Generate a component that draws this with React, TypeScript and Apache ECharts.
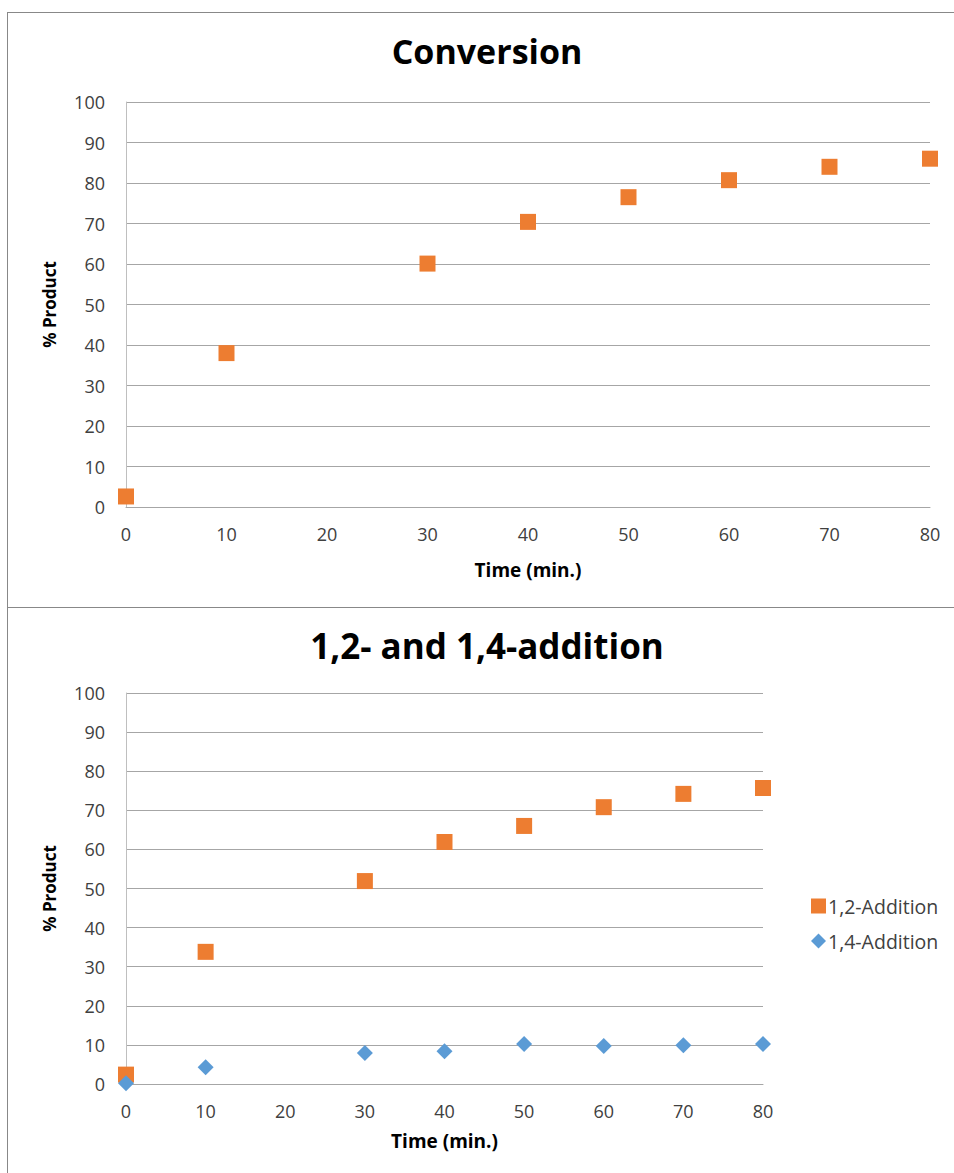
import React, { useEffect, useRef } from "react";
import * as echarts from "echarts";

const timeTop = [0, 10, 30, 40, 50, 60, 70, 80];
const conversion = [2.6, 38, 60.1, 70.4, 76.5, 80.7, 84, 86];

const timeBottom = [0, 10, 30, 40, 50, 60, 70, 80];
const add12 = [2.4, 33.8, 51.9, 61.9, 66, 70.8, 74.2, 75.7];
const add14 = [0.2, 4.3, 7.9, 8.4, 10.2, 9.7, 9.9, 10.2];

const xTicks = { min: 0, max: 80, interval: 10 };
const yTicks = { min: 0, max: 100, interval: 10 };

const FONT = "'Open Sans', sans-serif";
const ORANGE = "#ED7D31";
const BLUE = "#5B9BD5";
const TXT = "#404040";

export default function App() {
  const ref = useRef<HTMLDivElement>(null);
  useEffect(() => {
    if (!ref.current) return;
    const chart = echarts.init(ref.current, undefined, { renderer: "svg" });
    const xAxisBase = (gridIndex: number, nameGap: number) => ({
      type: "value",
      gridIndex,
      min: xTicks.min,
      max: xTicks.max,
      interval: xTicks.interval,
      name: "Time (min.)",
      nameLocation: "middle",
      nameGap,
      nameTextStyle: { fontFamily: FONT, fontWeight: "bold", fontSize: 19, color: "#000" },
      axisLine: { show: true, lineStyle: { color: "#a6a6a6", width: 1 } },
      axisTick: { show: false },
      splitLine: { show: false },
      axisLabel: { fontFamily: FONT, fontSize: 18, color: TXT, margin: 18 },
    });
    const yAxisBase = (gridIndex: number) => ({
      type: "value",
      gridIndex,
      min: yTicks.min,
      max: yTicks.max,
      interval: yTicks.interval,
      name: "% Product",
      nameLocation: "middle",
      nameGap: 68,
      nameTextStyle: { fontFamily: FONT, fontWeight: "bold", fontSize: 17, color: "#000" },
      axisLine: { show: true, lineStyle: { color: "#bfbfbf", width: 1 } },
      axisTick: { show: false },
      splitLine: { show: true, lineStyle: { color: "#a6a6a6", width: 1 } },
      axisLabel: { fontFamily: FONT, fontSize: 18, color: TXT, margin: 21 },
    });
    chart.setOption({
      animation: false,
      backgroundColor: "#fff",
      title: [
        {
          text: "Conversion",
          left: 482,
          top: 29,
          textAlign: "center",
          textStyle: { fontFamily: FONT, fontWeight: "bold", fontSize: 34, color: "#000" },
        },
        {
          text: "1,2- and 1,4-addition",
          left: 482,
          top: 623,
          textAlign: "center",
          textStyle: { fontFamily: FONT, fontWeight: "bold", fontSize: 35, color: "#000" },
        },
      ],
      grid: [
        { left: 126, top: 102, width: 804, height: 405 },
        { left: 126, top: 693, width: 637, height: 391 },
      ],
      xAxis: [xAxisBase(0, 53), xAxisBase(1, 47)],
      yAxis: [yAxisBase(0), yAxisBase(1)],
      legend: {
        data: [
          { name: "1,2-Addition", icon: "rect" },
          { name: "1,4-Addition", icon: "diamond" },
        ],
        orient: "vertical",
        left: 806,
        top: 891,
        itemWidth: 15,
        itemHeight: 15,
        itemGap: 15,
        textStyle: { fontFamily: FONT, fontSize: 19.5, color: TXT, padding: [0, 0, 0, -3] },
      },
      series: [
        {
          name: "Conversion",
          type: "scatter",
          xAxisIndex: 0,
          yAxisIndex: 0,
          symbol: "rect",
          symbolSize: 16,
          clip: false,
          itemStyle: { color: ORANGE, opacity: 1 },
          data: timeTop.map((t, i) => [t, conversion[i]]),
        },
        {
          name: "1,2-Addition",
          type: "scatter",
          xAxisIndex: 1,
          yAxisIndex: 1,
          symbol: "rect",
          symbolSize: 16,
          clip: false,
          itemStyle: { color: ORANGE, opacity: 1 },
          data: timeBottom.map((t, i) => [t, add12[i]]),
        },
        {
          name: "1,4-Addition",
          type: "scatter",
          xAxisIndex: 1,
          yAxisIndex: 1,
          symbol: "diamond",
          symbolSize: 16,
          clip: false,
          itemStyle: { color: BLUE, opacity: 1 },
          data: timeBottom.map((t, i) => [t, add14[i]]),
        },
      ],
      graphic: [
        { type: "line", shape: { x1: 7.5, y1: 12.5, x2: 7.5, y2: 1173 }, style: { stroke: "#888", lineWidth: 1 } },
        { type: "line", shape: { x1: 7, y1: 12.5, x2: 954, y2: 12.5 }, style: { stroke: "#888", lineWidth: 1 } },
        { type: "line", shape: { x1: 7, y1: 607.5, x2: 954, y2: 607.5 }, style: { stroke: "#888", lineWidth: 1 } },
      ],
    });
    return () => chart.dispose();
  }, []);
  return (
    <div
      ref={ref}
      style={{ position: "absolute", left: 0, top: 0, width: 954, height: 1173 }}
    />
  );
}
